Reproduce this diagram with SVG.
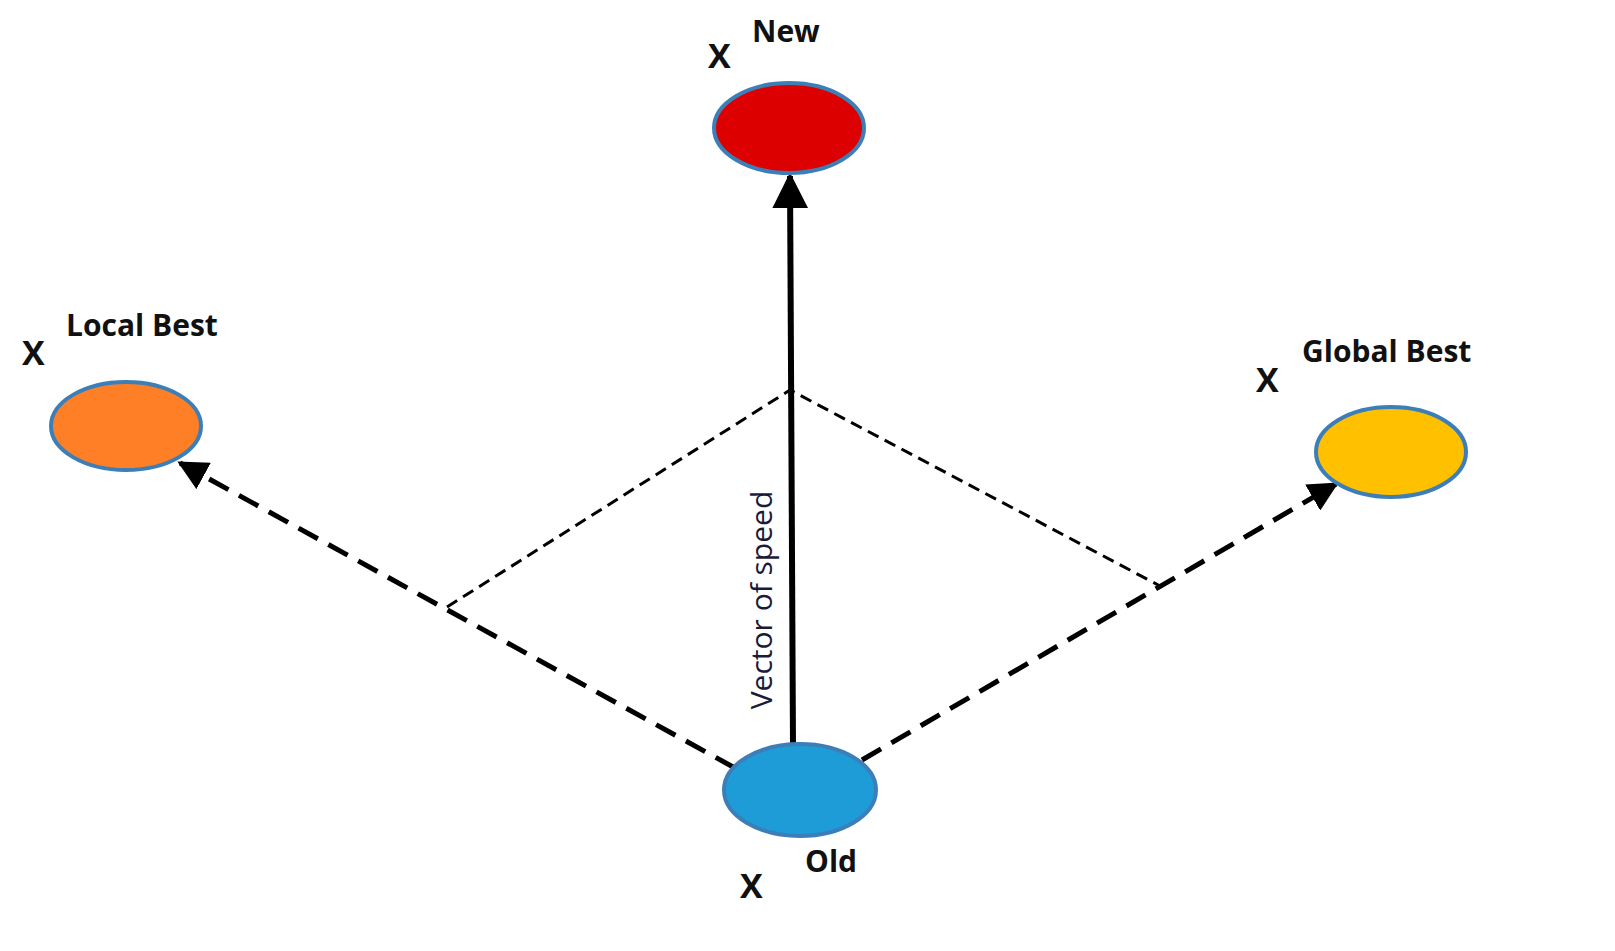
<svg xmlns="http://www.w3.org/2000/svg" width="1615" height="951" viewBox="0 0 1615 951">
<style>
.n{stroke:#3C7FB8;stroke-width:4}
.t{font-family:"Open Sans","DejaVu Sans",sans-serif;font-weight:bold;fill:#111}
.x{font-size:34px}
.s{font-size:30px}
.d{stroke:#000;stroke-width:5;stroke-dasharray:22 12;fill:none}
.dt{stroke:#000;stroke-width:3;stroke-dasharray:12 7;fill:none}
</style>
<defs>
<marker id="ah" viewBox="0 0 10 10" refX="9" refY="5" markerWidth="6" markerHeight="6" markerUnits="strokeWidth" orient="auto"><path d="M0,0 L10,5 L0,10 z" fill="#000"/></marker>
</defs>
<rect width="1615" height="951" fill="#fff"/>
<g id="connectors">
<path class="dt" d="M447,607 L790,390 L1160,586"/>
<line x1="793" y1="745" x2="790" y2="176" stroke="#000" stroke-width="6" marker-end="url(#ah)"/>
<line class="d" x1="735" y1="768" x2="180" y2="463" marker-end="url(#ah)"/>
<line class="d" x1="862" y1="760" x2="1336" y2="484" marker-end="url(#ah)"/>
<text transform="translate(772,600) rotate(-90)" text-anchor="middle" font-family="'Open Sans','DejaVu Sans',sans-serif" font-size="30" fill="#1a1a3a">Vector of speed</text>
</g>
<g id="new"><ellipse class="n" cx="789" cy="128" rx="75" ry="45" fill="#DC0000"/>
<text class="t x" x="708" y="68">X</text><text class="t s" x="752" y="42">New</text></g>
<g id="local"><ellipse class="n" cx="126" cy="426" rx="75" ry="44" fill="#FF7F27"/>
<text class="t x" x="22" y="365">X</text><text class="t s" x="66" y="336">Local Best</text></g>
<g id="global"><ellipse class="n" cx="1391" cy="452" rx="75" ry="45" fill="#FFC000"/>
<text class="t x" x="1256" y="392">X</text><text class="t s" x="1302" y="362">Global Best</text></g>
<g id="old"><ellipse class="n" cx="800" cy="790" rx="76" ry="46" fill="#1E9CD7"/>
<text class="t x" x="740" y="898">X</text><text class="t s" x="805" y="872">Old</text></g>
</svg>
